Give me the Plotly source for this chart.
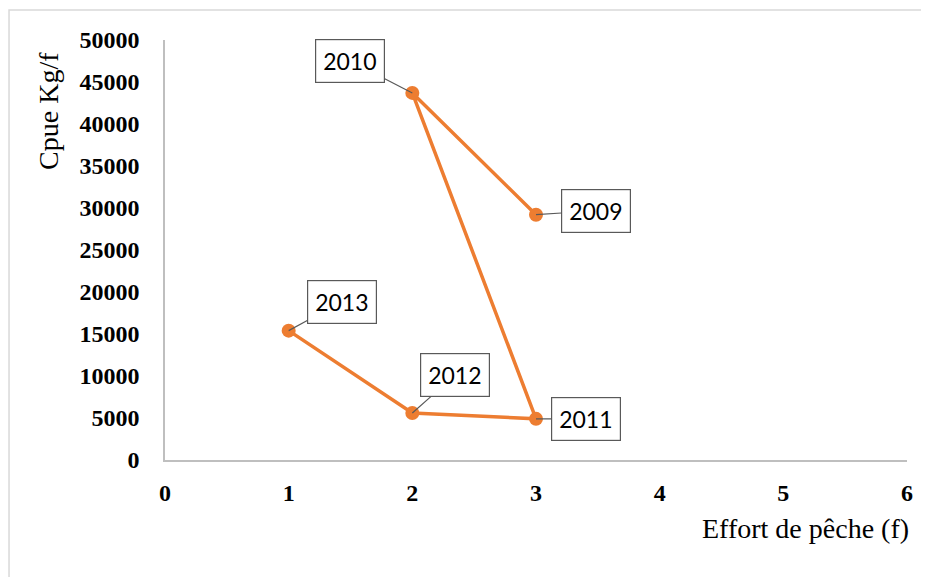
import plotly.graph_objects as go

years = ["2009", "2010", "2011", "2012", "2013"]
effort = [3, 2, 3, 2, 1]
cpue = [29200, 43700, 4900, 5600, 15400]
label_dx = [60, -62, 50, 43, 53]
label_dy = [-4, -32, 0, -38, -29]

x_ticks = [0, 1, 2, 3, 4, 5, 6]
y_ticks = [0, 5000, 10000, 15000, 20000, 25000, 30000, 35000, 40000, 45000, 50000]

orange = "#ED7D31"
axis_grey = "#BFBFBF"

fig = go.Figure()
fig.add_trace(go.Scatter(
    x=effort, y=cpue, mode="lines+markers",
    line=dict(color=orange, width=3.5),
    marker=dict(color=orange, size=14),
    hoverinfo="skip", showlegend=False,
))

for yr, xv, yv, dx, dy in zip(years, effort, cpue, label_dx, label_dy):
    fig.add_annotation(
        x=xv, y=yv, xref="x", yref="y", text=yr,
        showarrow=True, arrowhead=0, arrowwidth=1.2, arrowcolor="#595959",
        ax=dx, ay=dy, standoff=0,
        bgcolor="white", bordercolor="#595959", borderwidth=1.2, borderpad=7,
        font=dict(family="Lato", size=23, color="black"),
    )

fig.add_annotation(
    x=-0.157, y=0.83, xref="paper", yref="paper", text="Cpue Kg/f",
    showarrow=False, textangle=-90, xanchor="center", yanchor="middle",
    font=dict(family="Liberation Serif", size=28, color="black"),
)
fig.add_annotation(
    x=1.006, y=-0.163, xref="paper", yref="paper", text="Effort de pêche (f)",
    showarrow=False, xanchor="right", yanchor="middle",
    font=dict(family="Liberation Serif", size=28, color="black"),
)

fig.add_shape(
    type="rect", xref="paper", yref="paper",
    x0=-0.2102, x1=1.06, y0=-0.34, y1=1.0714,
    line=dict(color="#D9D9D9", width=1.5), fillcolor="rgba(0,0,0,0)", layer="below",
)

tick_font = dict(family="Liberation Serif", size=24, color="black", weight="bold")

fig.update_xaxes(
    range=[0, 6], tickvals=x_ticks, ticktext=[str(v) for v in x_ticks],
    showgrid=False, zeroline=False, showline=True, linecolor=axis_grey, linewidth=1.5,
    ticks="", tickfont=tick_font, ticklabelstandoff=10,
)
fig.update_yaxes(
    range=[0, 50000], tickvals=y_ticks, ticktext=[str(v) for v in y_ticks],
    showgrid=False, zeroline=False, showline=True, linecolor=axis_grey, linewidth=1.5,
    ticks="", tickfont=tick_font, ticklabelstandoff=19,
)

fig.update_layout(
    width=929, height=577,
    margin=dict(l=157, r=30, t=32, b=125),
    paper_bgcolor="white", plot_bgcolor="white",
)

fig.write_html("out.html")
